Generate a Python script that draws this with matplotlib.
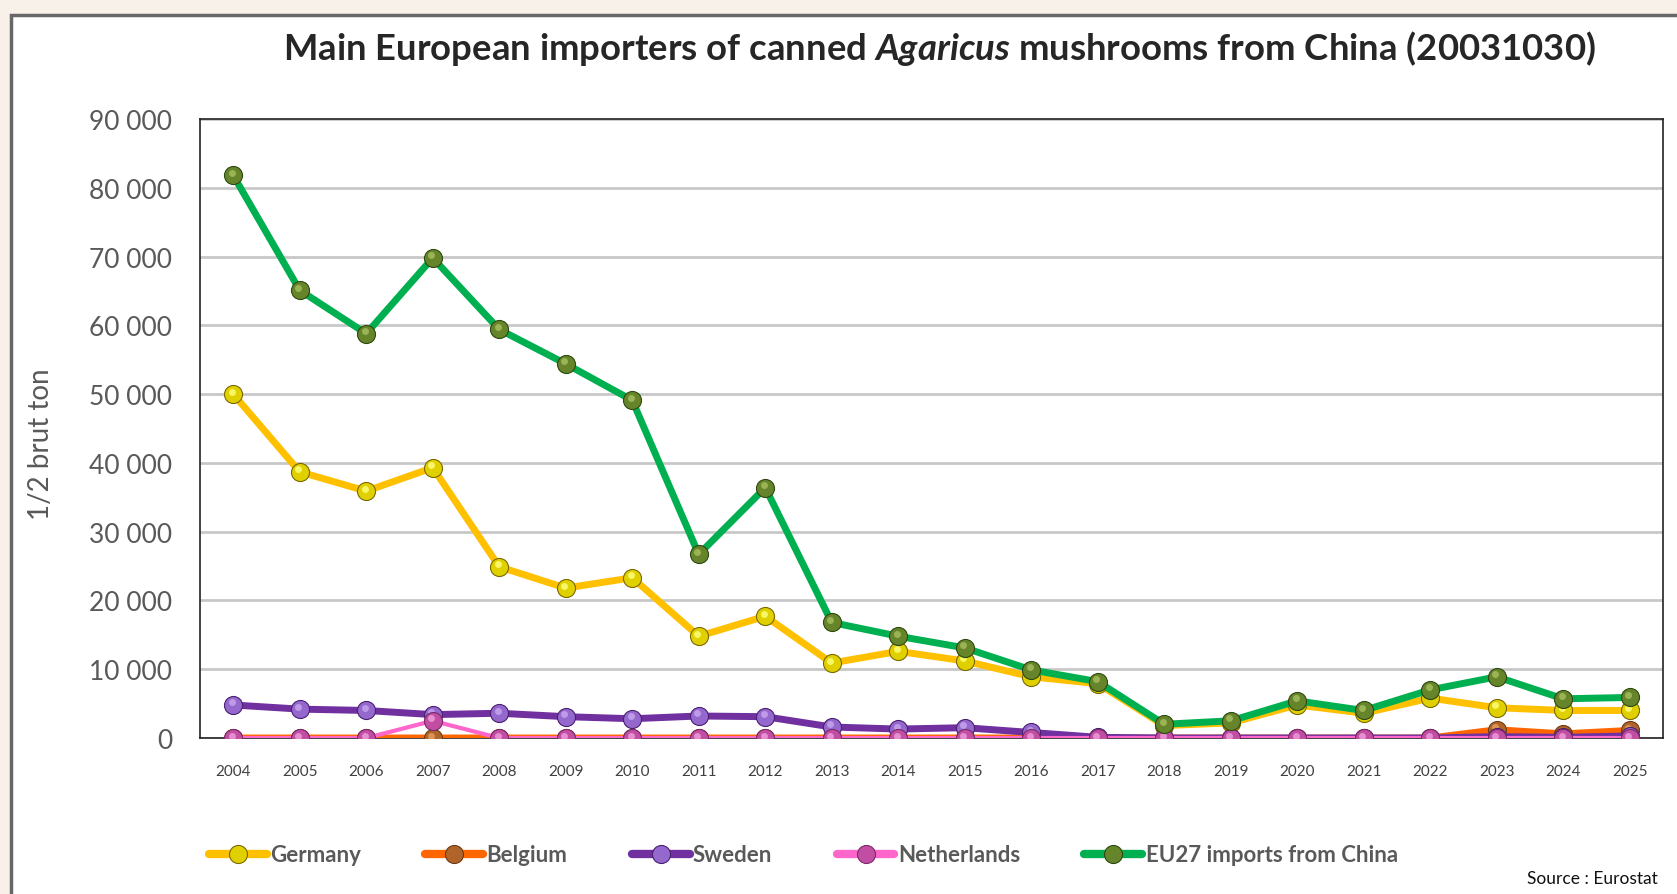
import matplotlib
matplotlib.use("Agg")
import matplotlib.pyplot as plt
from matplotlib.patches import Rectangle
from matplotlib.ticker import FuncFormatter, MultipleLocator
from matplotlib.transforms import offset_copy

years = [str(y) for y in range(2004, 2026)]
germany = [50000, 38700, 35900, 39300, 24900, 21800, 23300, 14800, 17700, 10900, 12600,
           11200, 8900, 7900, 1800, 2200, 4800, 3600, 5800, 4400, 4000, 4000]
belgium = [0, 0, 0, 0, 0, 0, 0, 0, 0, 0, 0, 0, 0, 0, 0, 0, 0, 0, 0, 1200, 600, 1100]
sweden = [4800, 4200, 4000, 3400, 3600, 3100, 2800, 3200, 3100, 1600, 1300,
          1500, 800, 100, 0, 0, 0, 0, 0, 200, 100, 300]
netherlands = [0, 0, 0, 2500, 0, 0, 0, 0, 0, 0, 0, 0, 0, 0, 0, 0, 0, 0, 0, 0, 0, 0]
eu27 = [81800, 65100, 58800, 69800, 59400, 54400, 49100, 26700, 36400, 16800, 14800,
        13100, 9900, 8200, 2000, 2500, 5400, 4000, 7000, 8900, 5700, 5900]

series = [
    ("Germany", germany, "#FFC000", "#E0D000", "#7A6A00", "#FFFF80"),
    ("Belgium", belgium, "#FF6600", "#B0642A", "#6E3A10", "#E8A060"),
    ("Sweden", sweden, "#7030A0", "#9468CC", "#4A2070", "#C8A8F0"),
    ("Netherlands", netherlands, "#FF66CC", "#C24EA4", "#7A2A68", "#F0A0DC"),
    ("EU27 imports from China", eu27, "#00B050", "#66842A", "#2E4A10", "#A8C060"),
]

plt.rcParams['font.family'] = ['Lato', 'DejaVu Sans']
plt.rcParams['mathtext.fontset'] = 'custom'
plt.rcParams['mathtext.it'] = 'Lato:bold:italic'
plt.rcParams['mathtext.rm'] = 'Lato:bold'

W, H = 1677, 895
fig = plt.figure(figsize=(W / 100, H / 100), dpi=100)
fig.patch.set_facecolor("#F8F1EA")
bg = Rectangle((11 / W, -0.05), 1.1, 1 - 16 / H + 0.05, transform=fig.transFigure,
               facecolor="white", edgecolor="#666666", linewidth=2.5, zorder=-10)
fig.patches.append(bg)

ax = fig.add_axes([200 / W, (H - 739) / H, 1463 / W, 619 / H])
ax.set_zorder(5)
ax.set_facecolor("white")
x = list(range(len(years)))
hl = offset_copy(ax.transData, fig=fig, x=-1.2, y=1.8, units="points")

lws = {"Netherlands": 3.0}
for i, (name, vals, lc, mc, ec, hc) in enumerate(series):
    ax.plot(x, vals, color=lc, lw=lws.get(name, 5.0), marker="o", ms=13,
            markerfacecolor=mc, markeredgecolor=ec, markeredgewidth=0.8,
            label=name, solid_capstyle="round", zorder=3 + i)
    ax.plot(x, vals, ls="none", marker="o", ms=5, markerfacecolor=hc, markeredgewidth=0,
            alpha=0.8, transform=hl, zorder=3 + i + 0.5)

ax.set_xlim(-0.5, len(years) - 0.5)
ax.set_ylim(0, 90000)
ax.yaxis.set_major_locator(MultipleLocator(10000))
ax.yaxis.set_major_formatter(FuncFormatter(lambda v, p: f"{int(v):,}".replace(",", " ")))
ax.set_xticks(x)
ax.set_xticklabels(years, fontsize=11, color="#404040")
ax.tick_params(axis="x", length=0, pad=19)
ax.tick_params(axis="y", length=0, pad=20, labelsize=19, labelcolor="#595959")
ax.grid(axis="y", color="#C8C8C8", lw=2, zorder=0)
ax.set_axisbelow(True)
for s in ax.spines.values():
    s.set_color("#222222")
    s.set_linewidth(1.2)

fig.text(41 / W, 1 - 444 / H, "1/2 brut ton", rotation=90, fontsize=20, color="#595959",
         ha="center", va="center")

fig.text(939 / W, 1 - 48 / H,
         r"Main European importers of canned $\mathit{Agaricus}$ mushrooms from China (20031030)",
         fontsize=26.3, fontweight="bold", color="#262626", ha="center", va="center")

handles, labels = ax.get_legend_handles_labels()
leg = fig.legend(handles, labels, loc="center left", bbox_to_anchor=(200 / W, 1 - 856 / H), ncol=5,
                 frameon=False, fontsize=16, handlelength=2.6, columnspacing=2.9,
                 handletextpad=0.15, borderaxespad=0)
for t in leg.get_texts():
    t.set_color("#595959")
    t.set_fontweight("bold")
for l in leg.get_lines():
    l.set_linewidth(6)

fig.text(1658 / W, 1 - 879 / H, "Source : Eurostat", fontsize=12.5, color="#111111",
         ha="right", va="center")

fig.savefig("out.png", dpi=100, facecolor=fig.get_facecolor())
